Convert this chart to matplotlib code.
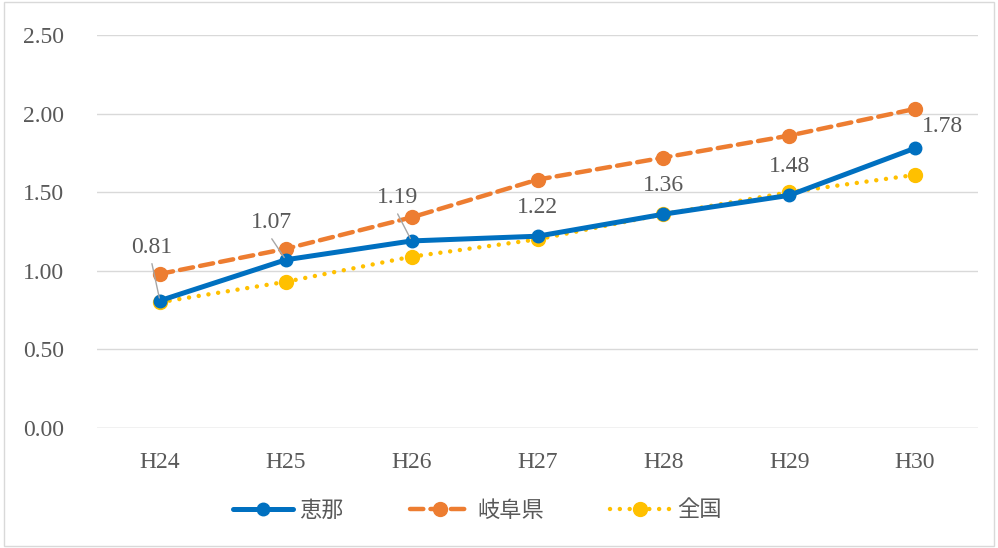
import matplotlib.pyplot as plt

years = ['H24', 'H25', 'H26', 'H27', 'H28', 'H29', 'H30']
ena = [0.81, 1.07, 1.19, 1.22, 1.36, 1.48, 1.78]
gifu = [0.98, 1.14, 1.34, 1.58, 1.72, 1.86, 2.03]
zenkoku = [0.80, 0.93, 1.09, 1.20, 1.36, 1.50, 1.61]

# label offsets in pixels (dx, dy) and whether a leader line is drawn
label_off = [(-8, 53), (-14, 37), (-14, 43), (0, 29), (0, 29), (0, 29), (27, 22)]
leader = [True, True, True, False, False, False, False]

serif = ['Liberation Serif', 'DejaVu Serif']
cjk = ['Noto Sans CJK JP', 'DejaVu Sans']
txt = '#595959'

fig = plt.figure(figsize=(9.98, 5.48), dpi=100)
fig.patches.append(plt.Rectangle((0.004, 0.004), 0.992, 0.992, transform=fig.transFigure,
                                 fill=False, edgecolor='#D9D9D9', linewidth=1))
ax = fig.add_axes([97 / 998, 120 / 548, 881 / 998, 393 / 548])

x = list(range(len(years)))
ax.plot(x, ena, color='#0070C0', lw=3.6, marker='o', ms=9, label='恵那', zorder=4,
        solid_capstyle='round')
ax.plot(x, gifu, color='#ED7D31', lw=3.2, ls=(0, (3, 1.6)), marker='o', ms=10,
        label='岐阜県', zorder=3, dash_capstyle='round')
ax.plot(x, zenkoku, color='#FFC000', lw=3.2, ls=(0, (0.01, 2.2)), marker='o', ms=10,
        label='全国', zorder=3, dash_capstyle='round')

for i, v in enumerate(ena):
    dx, dy = label_off[i]
    ax.annotate(f'{v:.2f}', (i, v), xytext=(dx, dy), textcoords='offset pixels',
                ha='center', va='center', fontsize=17, color=txt, family=serif, zorder=6)
    if leader[i]:
        ax.annotate('', (i, v), xytext=(dx, dy - 16), textcoords='offset pixels',
                    arrowprops=dict(arrowstyle='-', color='#A6A6A6', lw=1,
                                    shrinkA=0, shrinkB=2), zorder=6)

ax.set_xlim(-0.5, len(years) - 0.5)
ax.set_ylim(0, 2.5)
ax.set_yticks([0, 0.5, 1.0, 1.5, 2.0, 2.5])
ax.set_yticklabels([f'{t:.2f}' for t in [0, 0.5, 1.0, 1.5, 2.0, 2.5]])
ax.set_xticks(x)
ax.set_xticklabels(years)
for lab in ax.get_xticklabels() + ax.get_yticklabels():
    lab.set_family(serif)
    lab.set_fontsize(17)
    lab.set_color(txt)
ax.tick_params(length=0)
ax.tick_params(axis='x', pad=17)
ax.tick_params(axis='y', pad=24)
ax.grid(axis='y', color='#D9D9D9', lw=1)
ax.set_axisbelow(True)
for s in ax.spines.values():
    s.set_visible(False)
ax.axhline(0, color='#D9D9D9', lw=1)

leg = fig.legend(*ax.get_legend_handles_labels(), loc='center',
                 bbox_to_anchor=(0.478, 1 - 510 / 548), ncol=3, frameon=False,
                 handlelength=2.7, columnspacing=3.0, handletextpad=0.3,
                 prop={'family': cjk, 'size': 16})
for t in leg.get_texts():
    t.set_color(txt)

fig.savefig('out.png', dpi=100)
